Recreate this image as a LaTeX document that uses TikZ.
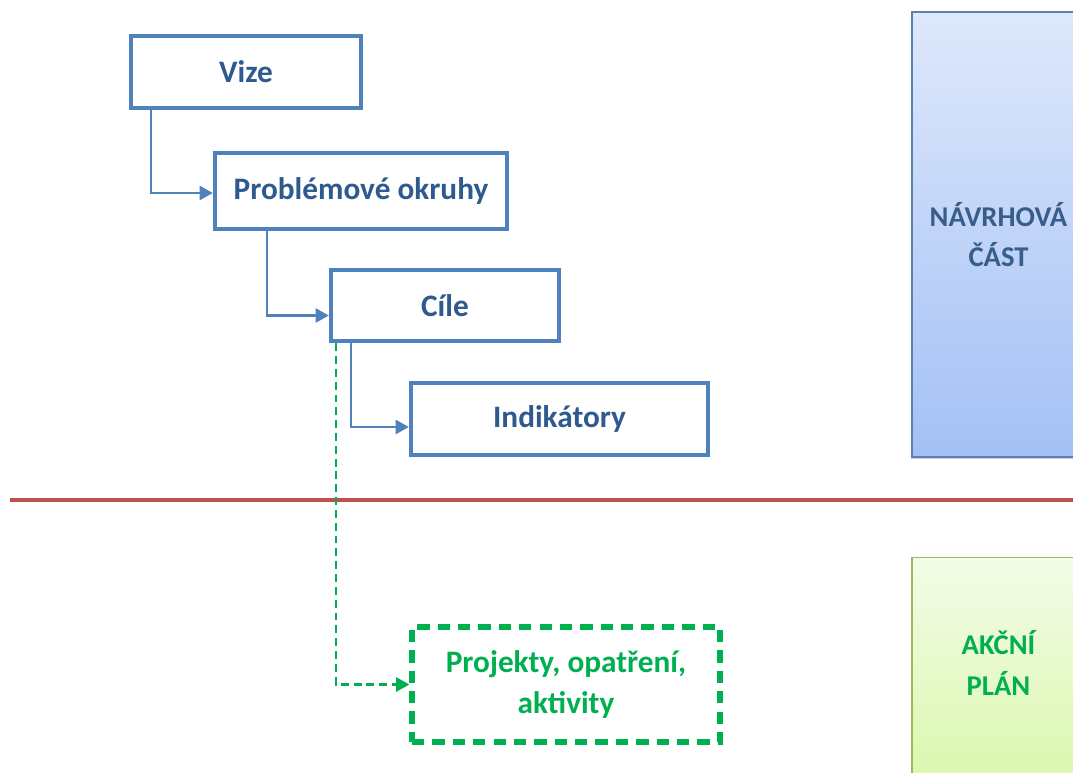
\documentclass[tikz,border=0pt]{standalone}
\usepackage{fontspec}
\setmainfont{Carlito}
\usepackage{xcolor}
\usepackage{tikz}
\usetikzlibrary{arrows.meta}
\usetikzlibrary{positioning}
\usetikzlibrary{shadows}

\definecolor{boxblue}{HTML}{4F81BD}
\definecolor{textblue}{HTML}{2F5A8F}
\definecolor{navrhtext}{HTML}{385D8A}
\definecolor{navrhtop}{HTML}{DEE8FB}
\definecolor{navrhbottom}{HTML}{A3C0F5}
\definecolor{plantop}{HTML}{F3FCE8}
\definecolor{planbottom}{HTML}{D8F6A6}
\definecolor{planborder}{HTML}{9BBB59}
\definecolor{greentext}{HTML}{00B050}
\definecolor{divider}{HTML}{C0504D}

\tikzset{
  stepbox/.style={draw=boxblue, line width=2.5pt, fill=white, text=textblue,
    font=\fontsize{17.8}{21}\selectfont\bfseries},
  actbox/.style={draw=greentext, line width=3pt, dash pattern=on 7pt off 4.6pt,
    text=greentext, align=center, font=\fontsize{17.8}{23.8}\selectfont\bfseries},
  link/.style={draw=boxblue, line width=1.4pt, -{Triangle[length=7.5pt,width=8pt]}},
  actlink/.style={draw=greentext, line width=1.2pt, dash pattern=on 4.5pt off 2.8pt,
    -{Triangle[length=7.5pt,width=8pt]}},
  partbox/.style={draw=boxblue!80!gray, line width=0.8pt, minimum width=3.46cm,
    drop shadow={shadow xshift=-0.6pt, shadow yshift=-1.2pt, opacity=0.35}},
  parttext/.style={align=center, font=\fontsize{16.3}{23}\selectfont\bfseries}
}

\begin{document}
\begin{tikzpicture}[x=0.02cm, y=-0.02cm]
\useasboundingbox (0,0) rectangle (1073,772);
\node[partbox, minimum height=8.9cm, top color=navrhtop, bottom color=navrhbottom,
  text=navrhtext, parttext] (navrh) at (998.5,234.5) {NÁVRHOVÁ\\ČÁST};
\node[partbox, draw=planborder, minimum height=5cm, anchor=north,
  top color=plantop, bottom color=planbottom] (akcni) at (998.5,557) {};
\node[parttext, text=greentext] (akcnitext) at (998.5,663) {AKČNÍ\\PLÁN};
\draw[divider, line width=2.4pt] (10,500) coordinate (hranice) -- (1073,500);
\node[stepbox, minimum width=4.6cm, minimum height=1.44cm] (vize) at (246,72) {Vize};
\node[stepbox, minimum width=5.84cm, minimum height=1.52cm] (okruhy) at (361,191) {Problémové okruhy};
\node[stepbox, minimum width=4.56cm, minimum height=1.42cm] (cile) at (445,305.5) {Cíle};
\node[stepbox, minimum width=5.94cm, minimum height=1.44cm] (indikatory) at (559.5,419) {Indikátory};
\node[actbox, minimum width=6.16cm, minimum height=2.3cm] (projekty) at (566,684.5) {Projekty, opatření,\\aktivity};
\draw[link] ([xshift=0.44cm]vize.south west) |- ([yshift=-0.04cm]okruhy.west);
\draw[link] ([xshift=1.08cm]okruhy.south west) |- ([yshift=-0.2cm]cile.west);
\draw[link] ([xshift=0.44cm]cile.south west) |- ([yshift=-0.16cm]indikatory.west);
\draw[actlink] ([xshift=0.14cm]cile.south west) |- (projekty.west);
\end{tikzpicture}
\end{document}
